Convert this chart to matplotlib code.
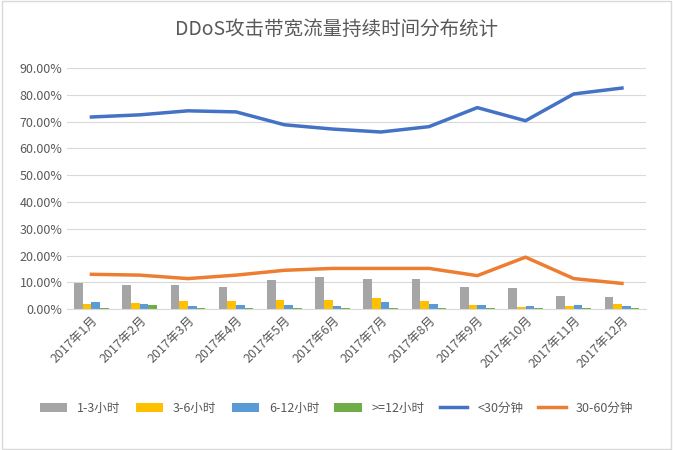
import numpy as np
import matplotlib.pyplot as plt
from matplotlib.ticker import FuncFormatter

plt.rcParams['font.family'] = ['Noto Sans CJK SC', 'Noto Sans CJK JP', 'Noto Sans CJK TC', 'DejaVu Sans']

months = ['2017年%d月' % i for i in range(1, 13)]
h1_3 = [9.9, 9.1, 9.1, 8.4, 10.9, 12.1, 11.2, 11.2, 8.4, 8.0, 4.9, 4.6]
h3_6 = [2.0, 2.4, 3.1, 3.1, 3.5, 3.5, 4.2, 3.1, 1.6, 0.9, 1.2, 2.0]
h6_12 = [2.7, 2.0, 1.2, 1.6, 1.6, 1.2, 2.7, 2.0, 1.6, 1.2, 1.6, 1.2]
h12 = [0.4, 1.6, 0.4, 0.4, 0.4, 0.4, 0.4, 0.4, 0.4, 0.4, 0.4, 0.4]
m30 = [71.7, 72.5, 74.0, 73.6, 68.8, 67.2, 66.1, 68.1, 75.2, 70.3, 80.3, 82.5]
m30_60 = [13.0, 12.7, 11.4, 12.7, 14.5, 15.2, 15.2, 15.2, 12.5, 19.4, 11.4, 9.6]

fig = plt.figure(figsize=(6.73, 4.5), dpi=100)
ax = fig.add_axes([0.1, 0.313, 0.86, 0.536])
x = np.arange(len(months))
w = 0.18
ax.bar(x - 1.5 * w, h1_3, w, color='#a5a5a5', label='1-3小时')
ax.bar(x - 0.5 * w, h3_6, w, color='#ffc000', label='3-6小时')
ax.bar(x + 0.5 * w, h6_12, w, color='#5b9bd5', label='6-12小时')
ax.bar(x + 1.5 * w, h12, w, color='#70ad47', label='>=12小时')
l1, = ax.plot(x, m30, color='#4472c4', lw=2.5, label='<30分钟')
l2, = ax.plot(x, m30_60, color='#ed7d31', lw=2.5, label='30-60分钟')

ax.set_ylim(0, 90)
ax.set_yticks(np.arange(0, 91, 10))
ax.yaxis.set_major_formatter(FuncFormatter(lambda v, p: '%.2f%%' % v))
ax.set_xlim(-0.5, 11.5)
ax.set_xticks(x)
ax.set_xticklabels(months, rotation=45, ha='right', rotation_mode='anchor')
ax.grid(axis='y', color='#d9d9d9', lw=0.8)
ax.set_axisbelow(True)
for s in ['top', 'right', 'left']:
    ax.spines[s].set_visible(False)
ax.spines['bottom'].set_color('#d9d9d9')
ax.tick_params(length=0, colors='#595959', labelsize=9)
fig.text(0.5, 0.935, 'DDoS攻击带宽流量持续时间分布统计', fontsize=14, color='#595959', ha='center', va='center')
h, lab = ax.get_legend_handles_labels()
order = [2, 3, 4, 5, 0, 1]
fig.legend([h[i] for i in order], [lab[i] for i in order], loc='center', ncol=6, frameon=False,
           fontsize=9, bbox_to_anchor=(0.5, 0.093), handlelength=2.2, columnspacing=1.2,
           labelcolor='#595959')
fig.patches.append(plt.Rectangle((0.003, 0.003), 0.994, 0.994, transform=fig.transFigure,
                                 fill=False, edgecolor='#d9d9d9', lw=1))
fig.savefig('out.png')
